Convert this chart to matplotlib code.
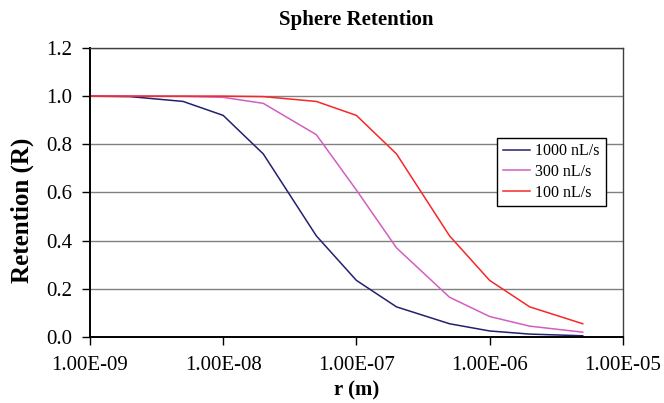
import matplotlib
matplotlib.use("Agg")
import matplotlib.pyplot as plt
from matplotlib.ticker import FixedLocator, FuncFormatter, NullLocator

plt.rcParams['font.family'] = ['Liberation Serif', 'DejaVu Serif']

r = [1e-9, 2e-9, 5e-9, 1e-8, 2e-8, 5e-8, 1e-7, 2e-7, 5e-7, 1e-6, 2e-6, 5e-6]
ret_1000 = [1.0, 0.998, 0.978, 0.92, 0.76, 0.42, 0.235, 0.125, 0.055, 0.025, 0.012, 0.005]
ret_300 = [1.0, 1.0, 0.999, 0.995, 0.97, 0.84, 0.61, 0.37, 0.165, 0.085, 0.045, 0.02]
ret_100 = [1.0, 1.0, 1.0, 1.0, 0.998, 0.978, 0.92, 0.76, 0.42, 0.235, 0.125, 0.055]
labels = ["1000 nL/s", "300 nL/s", "100 nL/s"]
colors = ["#23206e", "#d25ec0", "#f42828"]
xticks = [1e-9, 1e-8, 1e-7, 1e-6, 1e-5]
yticks = [0.0, 0.2, 0.4, 0.6, 0.8, 1.0, 1.2]

fig = plt.figure(figsize=(6.64, 4.03), dpi=100)
ax = fig.add_axes([0.1355, 0.1638, 0.8025, 0.7172])

for y, lab, c in zip([ret_1000, ret_300, ret_100], labels, colors):
    ax.plot(r, y, color=c, lw=1.1, label=lab)

ax.set_xscale('log')
ax.set_xlim(1e-9, 1e-5)
ax.set_ylim(0, 1.2)
ax.xaxis.set_major_locator(FixedLocator(xticks))
ax.xaxis.set_minor_locator(NullLocator())
ax.xaxis.set_major_formatter(FuncFormatter(lambda v, p: "%.2E" % v))
ax.set_yticks(yticks)
ax.yaxis.set_major_formatter(FuncFormatter(lambda v, p: "%.1f" % v))
ax.grid(axis='y', color='#808080', lw=1.0)
ax.set_axisbelow(True)
for s in ax.spines.values():
    s.set_linewidth(1.0)
ax.spines['left'].set_linewidth(1.4)
ax.spines['bottom'].set_linewidth(1.4)
ax.spines['top'].set_color('#404040')
ax.spines['right'].set_color('#404040')
ax.tick_params(axis='both', direction='out', length=6, labelsize=15, width=1.0)
ax.tick_params(axis='x', pad=7.5)
ax.tick_params(axis='y', pad=7)

fig.text(0.536, 1 - 20 / 403, "Sphere Retention", fontsize=15, fontweight='bold',
         ha='center', va='center')
ax.set_xlabel("r (m)", fontsize=15, fontweight='bold', va='center', ha='center')
ax.xaxis.set_label_coords(0.5, (337 - 390) / 289)
ax.set_ylabel("Retention (R)", fontsize=18, fontweight='bold', va='center', ha='center')
ax.yaxis.set_label_coords((22 - 90) / 533, (337 - 210) / 289)

leg = ax.legend(loc='upper left', bbox_to_anchor=(0.764, 0.69), fontsize=11.5,
                frameon=True, fancybox=False, edgecolor='black', framealpha=1,
                handlelength=1.7, borderpad=0.35, labelspacing=0.3, handletextpad=0.35,
                borderaxespad=0)
leg.get_frame().set_linewidth(1.0)

fig.savefig("out.png", dpi=100)
